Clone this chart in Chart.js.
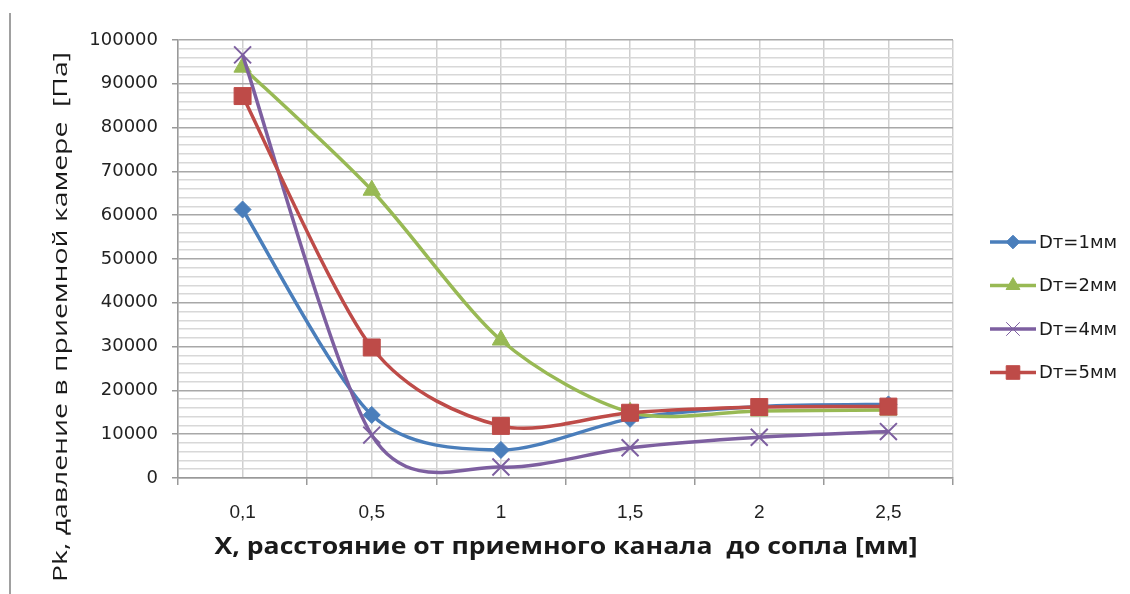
<!DOCTYPE html>
<html>
<head>
<meta charset="utf-8">
<script src="https://cdn.jsdelivr.net/npm/chart.js@4.4.0/dist/chart.umd.min.js"></script>
<style>
    html, body { margin: 0; padding: 0; background: #fff; }
    #wrap { width: 1130px; height: 594px; position: relative; }
</style>
</head>
<body>
<div id="wrap"><canvas id="chart" width="1130" height="594"></canvas></div>
<script>
// --- DATA ---
const xLabels = ['0,1', '0,5', '1', '1,5', '2', '2,5'];
const seriesNames = ['Dт=1мм', 'Dт=2мм', 'Dт=4мм', 'Dт=5мм'];
const dt1 = [61300, 14400, 6400, 13500, 16300, 16800];
const dt2 = [93800, 65700, 31500, 15000, 15300, 15500];
const dt4 = [96600, 9800, 2500, 6900, 9300, 10600];
const dt5 = [87200, 29800, 11900, 14900, 16200, 16300];
const yTitle = 'Pk, давление в приемной камере  [Па]';
const xTitle = 'X, расстояние от приемного канала  до сопла [мм]';

const colors = ['#4A7EBB', '#98B954', '#7D5FA0', '#BE4B48'];
const markers = ['rectRot', 'triangle', 'crossRot', 'rect'];
const markerSize = [8.5, 10, 12, 12];

function makeSet(i, data) {
    return {
        label: seriesNames[i],
        data: data,
        borderColor: colors[i],
        backgroundColor: colors[i],
        borderWidth: 3.5,
        pointStyle: markers[i],
        pointRadius: markerSize[i],
        pointHoverRadius: markerSize[i],
        pointBorderWidth: markers[i] === 'crossRot' ? 2 : 1,
        tension: 0.4,
        order: 4 - i
    };
}

// Excel-style smoothing: control points along the neighbour chord
const excelSmooth = {
    id: 'excelSmooth',
    beforeDatasetDraw(chart, args) {
        const meta = args.meta;
        if (!meta.dataset) return;
        meta.dataset.updateControlPoints(chart.chartArea, 'x');
        const pts = meta.data;
        const n = pts.length;
        for (let i = 0; i < n; i++) {
            const p = pts[i];
            const prev = pts[Math.max(i - 1, 0)];
            const next = pts[Math.min(i + 1, n - 1)];
            const dx = (next.x - prev.x) / 7;
            const dy = (next.y - prev.y) / 7;
            p.cp1x = p.x - dx; p.cp1y = p.y - dy;
            p.cp2x = p.x + dx; p.cp2y = p.y + dy;
        }
    }
};

// frame line, axis titles and legend drawn on the canvas
const extras = {
    id: 'extras',
    afterDraw(chart) {
        const ctx = chart.ctx;
        ctx.save();
        ctx.strokeStyle = '#a0a0a0';
        ctx.lineWidth = 2;
        ctx.beginPath();
        ctx.moveTo(10, 13);
        ctx.lineTo(10, 594);
        ctx.stroke();

        ctx.fillStyle = '#1a1a1a';
        // y title
        ctx.save();
        ctx.font = '20px "Open Sans"';
        let w = ctx.measureText(yTitle).width;
        ctx.translate(67, 317);
        ctx.rotate(-Math.PI / 2);
        ctx.scale(530 / w, 1);
        ctx.textAlign = 'center';
        ctx.textBaseline = 'alphabetic';
        ctx.fillText(yTitle, 0, 0);
        ctx.restore();

        // x title
        ctx.save();
        ctx.font = 'bold 23px "Open Sans"';
        w = ctx.measureText(xTitle).width;
        ctx.translate(566, 554);
        ctx.scale(703 / w, 1);
        ctx.textAlign = 'center';
        ctx.textBaseline = 'alphabetic';
        ctx.fillText(xTitle, 0, 0);
        ctx.restore();

        // legend
        chart.data.datasets.forEach((ds, i) => {
            const y = 242 + i * 43.5;
            ctx.strokeStyle = ds.borderColor;
            ctx.fillStyle = ds.borderColor;
            ctx.lineWidth = 3.5;
            ctx.beginPath();
            ctx.moveTo(990, y);
            ctx.lineTo(1036, y);
            ctx.stroke();
            ctx.lineWidth = 1;
            Chart.helpers.drawPoint(ctx, {
                pointStyle: ds.pointStyle,
                radius: ds.pointRadius * 0.8,
                borderWidth: 1,
                rotation: 0
            }, 1013, y);
            ctx.fillStyle = '#1a1a1a';
            ctx.font = '18px "DejaVu Sans"';
            ctx.textAlign = 'left';
            ctx.textBaseline = 'middle';
            ctx.fillText(ds.label, 1039, y + 1);
        });
        ctx.restore();
    }
};

const ctx = document.getElementById('chart').getContext('2d');
new Chart(ctx, {
    type: 'line',
    data: {
        labels: xLabels,
        datasets: [makeSet(0, dt1), makeSet(1, dt2), makeSet(2, dt4), makeSet(3, dt5)]
    },
    options: {
        responsive: false,
        animation: false,
        layout: { padding: { top: 40, right: 177, left: 0, bottom: 0 } },
        plugins: {
            legend: { display: false },
            tooltip: { enabled: false }
        },
        scales: {
            x: {
                type: 'category',
                offset: true,
                grid: {
                    offset: true,
                    color: '#cfcfcf',
                    lineWidth: 1.5,
                    tickLength: 7,
                    tickColor: '#999'
                },
                border: { color: '#999', width: 1.5 },
                ticks: {
                    color: '#222',
                    font: { family: 'Liberation Sans', size: 19 },
                    padding: 16,
                    maxRotation: 0
                },
                afterFit(scale) { scale.height = 116; }
            },
            x2: {
                type: 'category',
                position: 'bottom',
                offset: true,
                grid: { offset: false, color: '#cfcfcf', lineWidth: 1.5, drawTicks: false },
                border: { display: false },
                ticks: { display: false },
                afterFit(scale) { scale.height = 0; }
            },
            y: {
                min: 0,
                max: 100000,
                ticks: {
                    stepSize: 2000,
                    autoSkip: false,
                    color: '#222',
                    padding: 14,
                    font: { family: 'DejaVu Sans', size: 18 },
                    callback: v => (v % 10000 === 0 ? String(v) : '')
                },
                grid: {
                    color: c => (c.tick && c.tick.value % 10000 === 0 ? '#a8a8a8' : '#d8d8d8'),
                    lineWidth: 1.5,
                    tickLength: 6,
                    tickColor: c => (c.tick && c.tick.value % 10000 === 0 ? '#999' : 'rgba(0,0,0,0)')
                },
                border: { color: '#999', width: 1.5 },
                afterFit(scale) { scale.width = 178; }
            }
        }
    },
    plugins: [excelSmooth, extras]
});
</script>
</body>
</html>
